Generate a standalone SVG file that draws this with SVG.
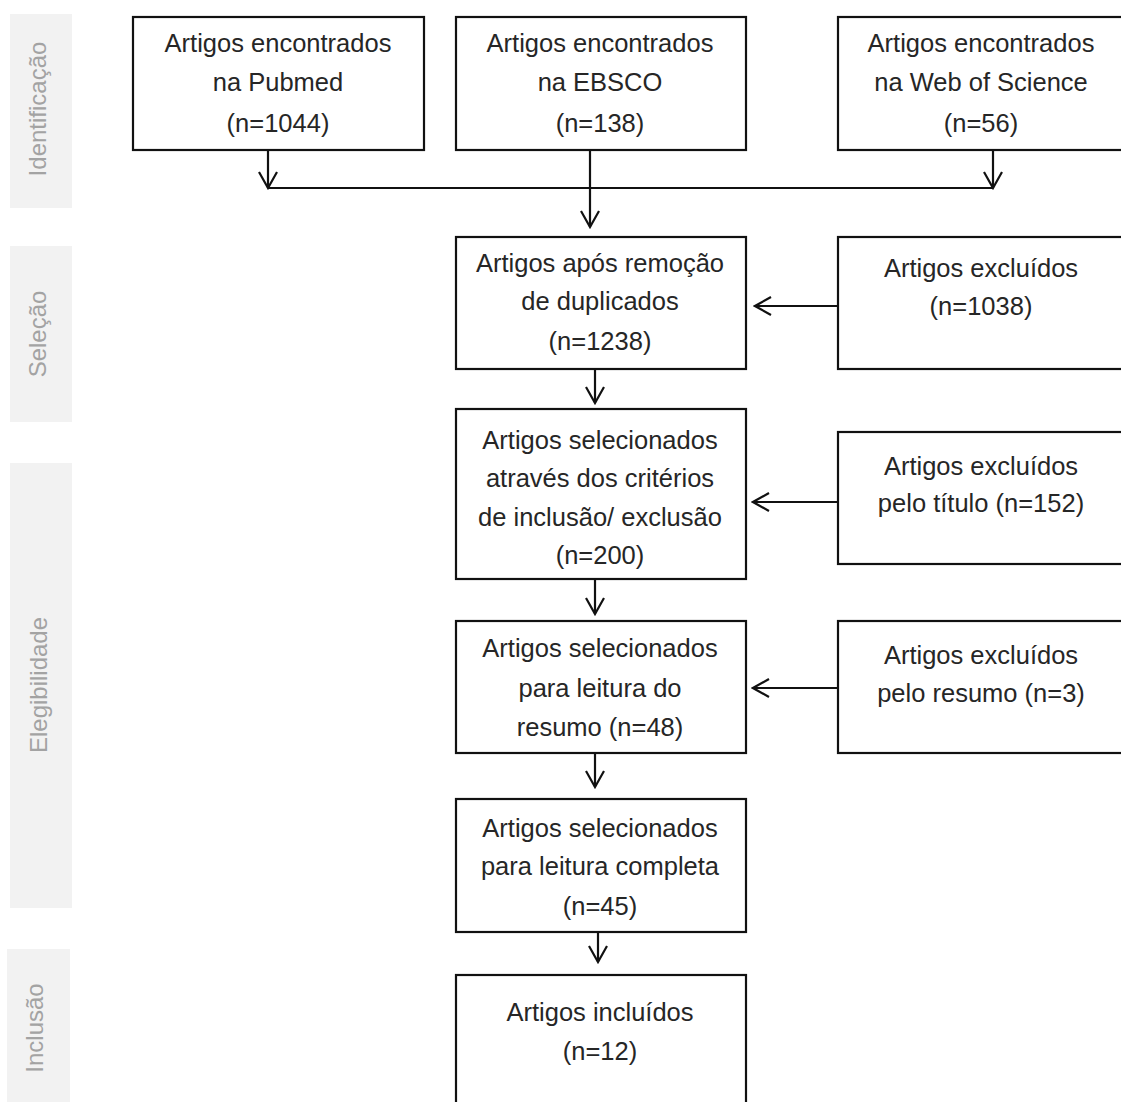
<svg xmlns="http://www.w3.org/2000/svg" width="1121" height="1102" viewBox="0 0 1121 1102">
<style>
.box{fill:#fff;stroke:#111;stroke-width:2.2}
.t{font-family:"Liberation Sans",Arial,sans-serif;font-size:25.5px;fill:#262626;text-anchor:middle}
.band{fill:#f2f2f2}
.bt{font-family:"Liberation Sans",Arial,sans-serif;font-size:24px;fill:#a3a3a3;text-anchor:middle}
.c{fill:none;stroke:#111;stroke-width:2.2}
</style>
<defs>
<marker id="v" viewBox="0 0 20 20" refX="18" refY="10" markerWidth="20" markerHeight="20" markerUnits="userSpaceOnUse" orient="auto">
<path d="M2,1 L18,10 L2,19" fill="none" stroke="#111" stroke-width="2.2"/>
</marker>
</defs>
<rect width="1121" height="1102" fill="#fff"/>
<g id="stage-identificacao">
<rect class="band" x="10" y="14" width="62" height="194"/>
<text class="bt" transform="translate(46,109) rotate(-90)">Identificação</text>
</g>
<g id="stage-selecao">
<rect class="band" x="10" y="246" width="62" height="176"/>
<text class="bt" transform="translate(46,334) rotate(-90)">Seleção</text>
</g>
<g id="stage-elegibilidade">
<rect class="band" x="10" y="463" width="62" height="445"/>
<text class="bt" transform="translate(47,685) rotate(-90)">Elegibilidade</text>
</g>
<g id="stage-inclusao">
<rect class="band" x="7" y="949" width="63" height="160"/>
<text class="bt" transform="translate(43,1028) rotate(-90)">Inclusão</text>
</g>
<g id="connectors">
<path class="c" d="M268,150 V188" marker-end="url(#v)"/>
<path class="c" d="M993,150 V188" marker-end="url(#v)"/>
<path class="c" d="M268,188 H993"/>
<path class="c" d="M590,150 V227" marker-end="url(#v)"/>
<path class="c" d="M838,306 H755" marker-end="url(#v)"/>
<path class="c" d="M595,369 V403" marker-end="url(#v)"/>
<path class="c" d="M838,502 H753" marker-end="url(#v)"/>
<path class="c" d="M595,579 V614" marker-end="url(#v)"/>
<path class="c" d="M838,688 H753" marker-end="url(#v)"/>
<path class="c" d="M595,753 V787" marker-end="url(#v)"/>
<path class="c" d="M598,930 V962" marker-end="url(#v)"/>
</g>
<g id="pubmed">
<rect class="box" x="133" y="17" width="291" height="133"/>
<text class="t" x="278" y="52">Artigos encontrados</text>
<text class="t" x="278" y="91">na Pubmed</text>
<text class="t" x="278" y="132">(n=1044)</text>
</g>
<g id="ebsco">
<rect class="box" x="456" y="17" width="290" height="133"/>
<text class="t" x="600" y="52">Artigos encontrados</text>
<text class="t" x="600" y="91">na EBSCO</text>
<text class="t" x="600" y="132">(n=138)</text>
</g>
<g id="wos">
<rect class="box" x="838" y="17" width="290" height="133"/>
<text class="t" x="981" y="52">Artigos encontrados</text>
<text class="t" x="981" y="91">na Web of Science</text>
<text class="t" x="981" y="132">(n=56)</text>
</g>
<g id="dedup">
<rect class="box" x="456" y="237" width="290" height="132"/>
<text class="t" x="600" y="272">Artigos após remoção</text>
<text class="t" x="600" y="310">de duplicados</text>
<text class="t" x="600" y="350">(n=1238)</text>
</g>
<g id="excl1">
<rect class="box" x="838" y="237" width="290" height="132"/>
<text class="t" x="981" y="277">Artigos excluídos</text>
<text class="t" x="981" y="315">(n=1038)</text>
</g>
<g id="criterios">
<rect class="box" x="456" y="409" width="290" height="170"/>
<text class="t" x="600" y="449">Artigos selecionados</text>
<text class="t" x="600" y="487">através dos critérios</text>
<text class="t" x="600" y="526">de inclusão/ exclusão</text>
<text class="t" x="600" y="564">(n=200)</text>
</g>
<g id="excl2">
<rect class="box" x="838" y="432" width="290" height="132"/>
<text class="t" x="981" y="475">Artigos excluídos</text>
<text class="t" x="981" y="512">pelo título (n=152)</text>
</g>
<g id="resumo">
<rect class="box" x="456" y="621" width="290" height="132"/>
<text class="t" x="600" y="657">Artigos selecionados</text>
<text class="t" x="600" y="697">para leitura do</text>
<text class="t" x="600" y="736">resumo (n=48)</text>
</g>
<g id="excl3">
<rect class="box" x="838" y="621" width="290" height="132"/>
<text class="t" x="981" y="664">Artigos excluídos</text>
<text class="t" x="981" y="702">pelo resumo (n=3)</text>
</g>
<g id="completa">
<rect class="box" x="456" y="799" width="290" height="133"/>
<text class="t" x="600" y="837">Artigos selecionados</text>
<text class="t" x="600" y="875">para leitura completa</text>
<text class="t" x="600" y="915">(n=45)</text>
</g>
<g id="incluidos">
<rect class="box" x="456" y="975" width="290" height="140"/>
<text class="t" x="600" y="1021">Artigos incluídos</text>
<text class="t" x="600" y="1060">(n=12)</text>
</g>
</svg>
